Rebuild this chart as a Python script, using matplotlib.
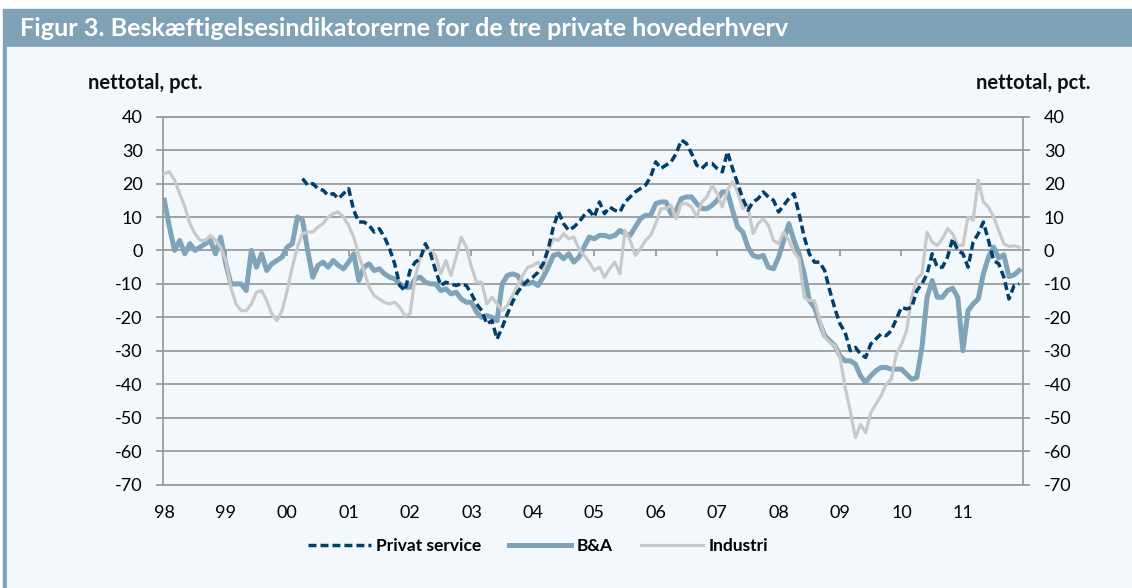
import numpy as np
import matplotlib
matplotlib.use("Agg")
import matplotlib.pyplot as plt
from matplotlib.patches import Rectangle

nan = np.nan

# Monthly values, Jan 1998 - Dec 2011 (one row per year), net balance in pct.
YEAR_LABELS = ["98", "99", "00", "01", "02", "03", "04", "05",
               "06", "07", "08", "09", "10", "11"]

PRIVAT_SERVICE = [
    nan, nan, nan, nan, nan, nan, nan, nan, nan, nan, nan, nan,
    nan, nan, nan, nan, nan, nan, nan, nan, nan, nan, nan, nan,
    nan, nan, nan, 21.5, 19.5, 20, 18.5, 18, 16.5, 17, 15.5, 17,
    18.5, 12, 8.5, 8.5, 7.5, 5.5, 6.5, 4, 0.5, -4, -10.5, -12,
    -6, -3.5, -2.5, 2, -1, -6, -10.5, -9.5, -10, -10.5, -10, -10.5,
    -13, -16, -18, -22, -21, -26.5, -23, -19, -15.5, -12.5, -10.5, -9,
    -8, -6.5, -4, 0.5, 7, 11.5, 8, 6, 7, 8.5, 10.5, 12,
    10, 14.5, 11, 13, 12, 11.5, 14.5, 16, 17.5, 18.5, 19.5, 22,
    26.5, 24.5, 25.5, 26.5, 29, 33, 32, 29, 25.5, 24.5, 26, 26,
    24.5, 23.5, 29.5, 24.5, 20, 15.5, 12, 14.5, 15.5, 17.5, 16, 15,
    11.5, 13.5, 15.5, 17, 11, 4, -1, -3.5, -3.5, -6, -12, -17.5,
    -22, -24.5, -30, -29, -31, -32, -28, -26.5, -25, -25.5, -24, -20.5,
    -17, -17.5, -17, -12, -10, -7, -1, -5, -5, -2, 3.5, 0,
    -1, -5, 2.5, 5, 8.5, 3, -3, -4, -8, -14.5, -10.5, -10,
]

BA = [
    15, 7, 0, 3, -1, 2, 0, 1, 2, 3, -1, 4,
    -4, -10, -10, -10, -12, 0, -5, -1, -6, -4, -3, -2,
    1, 2, 10, 9, 0, -8, -4.5, -3.5, -5, -3, -4.5, -5.5,
    -3.5, -1, -9, -5, -4, -6, -5.5, -7, -8, -8.5, -10, -11,
    -11, -8.5, -8, -9.5, -10, -10, -12, -11.5, -13, -12.5, -14.5, -15.5,
    -15.5, -18.5, -20, -19.5, -20, -21, -10, -7.5, -7, -7.5, -10, -10,
    -9.5, -10.5, -8, -5, -1.5, -1, -2.5, -1, -3.5, -2, 1, 4,
    3.5, 4.5, 4.5, 4, 4.5, 6, 5, 4.5, 7, 9.5, 10.5, 10.5,
    14, 14.5, 14.5, 11, 12, 15.5, 16, 16, 14, 12.5, 12.5, 13.5,
    15, 17.5, 17.5, 12, 7, 5.5, 1, -1.5, -2, -1.5, -5, -5.5,
    -2, 3, 8, 3, -1, -7, -15, -17, -21.5, -25.5, -27, -28.5,
    -31.5, -33, -33, -34, -37.5, -39.5, -37.5, -36, -35, -35, -35.5, -35.5,
    -35.5, -37, -38.5, -38, -29, -14, -9, -14, -14, -12, -11.3, -14,
    -30, -18, -16, -14.5, -7, -2, 1, -2.3, -1.3, -7.8, -7.3, -6,
]

INDUSTRI = [
    23, 23.5, 21, 17, 13, 8, 5, 3, 3, 4.5, 3, 1,
    -3, -11, -16, -18, -18, -16, -12.5, -12, -15, -19, -21, -18,
    -12, -5, 1, 5, 5.5, 5.5, 7, 8, 10, 11, 11.5, 10,
    7.5, 4, -1.5, -6, -11, -13.5, -14.5, -15.5, -16, -15.5, -17, -19.5,
    -19, -8, -2, 0.5, 0, -1.5, -7, -3, -7.5, -2, 4, 1,
    -5, -9.5, -9.5, -16, -14, -16, -18, -16.5, -13.5, -10.5, -7.5, -5,
    -4.5, -3.5, -6, 0, 3.5, 3, 5, 3.5, 4, 0.5, -1.5, -3.5,
    -6, -5, -8, -5.5, -3.5, -7, 6, 3, -1.5, 0.5, 3, 4.5,
    8, 12.5, 12.5, 13.5, 9.5, 14, 14, 13, 10, 14.5, 16, 19.5,
    17, 13, 18, 20.5, 17.5, 12.5, 13.5, 5, 8, 9.5, 7.5, 3,
    2, 5.5, 3, -0.5, -2.5, -14, -15, -15, -20.5, -26, -27.5, -28.5,
    -32, -41, -48, -56, -52, -54.5, -48.5, -46, -43.5, -40, -38.5, -31,
    -28, -24, -14, -8.5, -7, 5.5, 2.5, 1.5, 3.5, 6.5, 5, 1.5,
    1.5, 10, 9, 21, 14.5, 13, 10, 6, 2, 1.2, 1.4, 1,
]

TITLE = "Figur 3. Beskæftigelsesindikatorerne for de tre private hovederhverv"
UNIT = "nettotal, pct."

# Colours
COL_BAR = "#7fa2b7"
COL_BG = "#f3f8fc"
COL_GRID = "#9b9b9b"
COL_PS = "#003f6b"
COL_BA = "#7fa3b9"
COL_IND = "#c9c9c9"

W, H = 1132, 588


def draw_frame(fig):
    """Title bar, left border strip and the light panel behind the chart."""
    # negative zorder so the panels sit behind the axes
    fig.patches.append(Rectangle((3.3 / W, 0), 1, 1 - 9.3 / H,
                                 transform=fig.transFigure, color=COL_BAR, zorder=-2))
    fig.patches.append(Rectangle((6.5 / W, 0), 1, 1 - 46.7 / H,
                                 transform=fig.transFigure, color=COL_BG, zorder=-1))
    fig.text(20 / W, 1 - 28.5 / H, TITLE, color="white", fontsize=18.2,
             fontweight="bold", va="center", ha="left")
    fig.text(88 / W, 1 - 83 / H, UNIT, fontsize=14.5, fontweight="bold",
             va="center", ha="left", color="#111111")
    fig.text(1090 / W, 1 - 83 / H, UNIT, fontsize=14.5, fontweight="bold",
             va="center", ha="right", color="#111111")


def main():
    plt.rcParams['font.family'] = ['Lato', 'DejaVu Sans']
    plt.rcParams['axes.unicode_minus'] = False  # plain hyphen like the original

    fig = plt.figure(figsize=(W / 100, H / 100), dpi=100, facecolor="white")
    draw_frame(fig)

    ax = fig.add_axes([163.3 / W, 1 - 484.5 / H, (1023.3 - 163.3) / W, (484.5 - 116.7) / H])
    ax.set_facecolor("none")

    x = np.arange(len(BA))
    ln_ba, = ax.plot(x, BA, color=COL_BA, lw=3.6, solid_joinstyle="round", zorder=2, label="B&A")
    ln_ind, = ax.plot(x, INDUSTRI, color=COL_IND, lw=2.3, zorder=3, label="Industri")
    ln_ps, = ax.plot(x, PRIVAT_SERVICE, color=COL_PS, lw=2.5, dashes=(2.3, 1.15),
                     zorder=4, label="Privat service")

    ax.set_xlim(-0.2, 167.8)
    ax.set_ylim(-70, 40)
    ax.set_yticks(range(-70, 41, 10))
    ax.yaxis.grid(True, color=COL_GRID, lw=1.3)
    ax.set_axisbelow(True)
    for sp in ax.spines.values():
        sp.set_color(COL_GRID)
        sp.set_linewidth(1.3)

    ax.tick_params(axis="y", left=True, right=True, labelleft=True, labelright=True,
                   length=4.8, width=1.3, color=COL_GRID, pad=10, labelsize=13)
    ax.set_xticks([12 * k for k in range(len(YEAR_LABELS))])
    ax.set_xticklabels(YEAR_LABELS)
    ax.tick_params(axis="x", length=0, pad=15, labelsize=13)

    # small year tick marks hanging below the zero line
    sec = ax.secondary_xaxis(70 / 110)
    sec.set_xticks([12 * k for k in range(1, len(YEAR_LABELS))])
    sec.set_xticklabels([])
    sec.tick_params(axis="x", direction="in", length=4.5, width=1.3, color=COL_GRID)
    for sp in sec.spines.values():
        sp.set_visible(False)

    fig.legend([ln_ps, ln_ba, ln_ind], ["Privat service", "B&A", "Industri"],
               loc="center", bbox_to_anchor=(538 / W, 1 - 546 / H), ncol=3,
               frameon=False, handlelength=3.6, handletextpad=0.3, columnspacing=1.6,
               prop={"size": 12.5, "weight": "bold"})

    fig.savefig("out.png", dpi=100, facecolor=fig.get_facecolor())
    plt.close(fig)


if __name__ == "__main__":
    main()
